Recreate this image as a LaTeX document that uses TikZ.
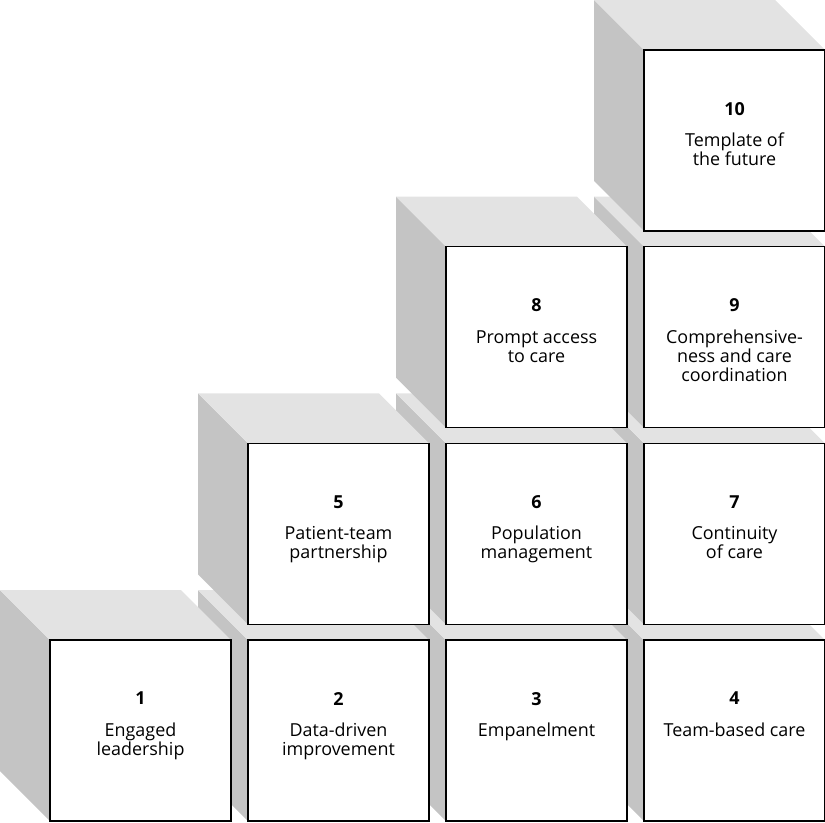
\documentclass[tikz,border=0pt]{standalone}
\usepackage{fontspec}
\setmainfont{Open Sans}
\definecolor{topgrey}{HTML}{E3E3E3}
\definecolor{sidegrey}{HTML}{C4C4C4}
\tikzset{
  topface/.style={fill=topgrey},
  sideface/.style={fill=sidegrey},
  frontface/.style={draw=black,line width=0.85pt,fill=white,inner sep=0pt,
    minimum width=3.62cm,minimum height=3.62cm},
  boxlabel/.style={align=center,inner sep=0pt,anchor=north,
    font=\fontsize{10.2}{10.9}\selectfont}
}
\begin{document}
\begin{tikzpicture}[x=0.02cm,y=-0.02cm]
  \useasboundingbox (0,0) rectangle (825,822);
  % bottom row first, right to left, so nearer cubes cover the ones behind
  \foreach \col/\row/\num/\txt in {
      3/0/4/{Team-based care},
      2/0/3/{Empanelment},
      1/0/2/{Data-driven\\improvement},
      0/0/1/{Engaged\\leadership},
      3/1/7/{Continuity\\of care},
      2/1/6/{Population\\management},
      1/1/5/{Patient-team\\partnership},
      3/2/9/{Comprehensive-\\ness and care\\coordination},
      2/2/8/{Prompt access\\to care},
      3/3/10/{Template of\\the future}}
  {
    \pgfmathsetmacro\xl{50+198*\col}
    \pgfmathsetmacro\yt{640-196.67*\row}
    \fill[sideface] (\xl-50,\yt-50) -- (\xl,\yt) -- (\xl,\yt+181) -- (\xl-50,\yt+131) -- cycle;
    \fill[topface] (\xl-50,\yt-50) -- (\xl+131,\yt-50) -- (\xl+181,\yt) -- (\xl,\yt) -- cycle;
    \node[frontface] (box\num) at (\xl+90.5,\yt+90.5) {};
    \node[boxlabel] (label\num) at ([yshift=-1.05cm]box\num.north)
      {\textbf{\num}\\[7pt]\txt};
  }
\end{tikzpicture}
\end{document}
